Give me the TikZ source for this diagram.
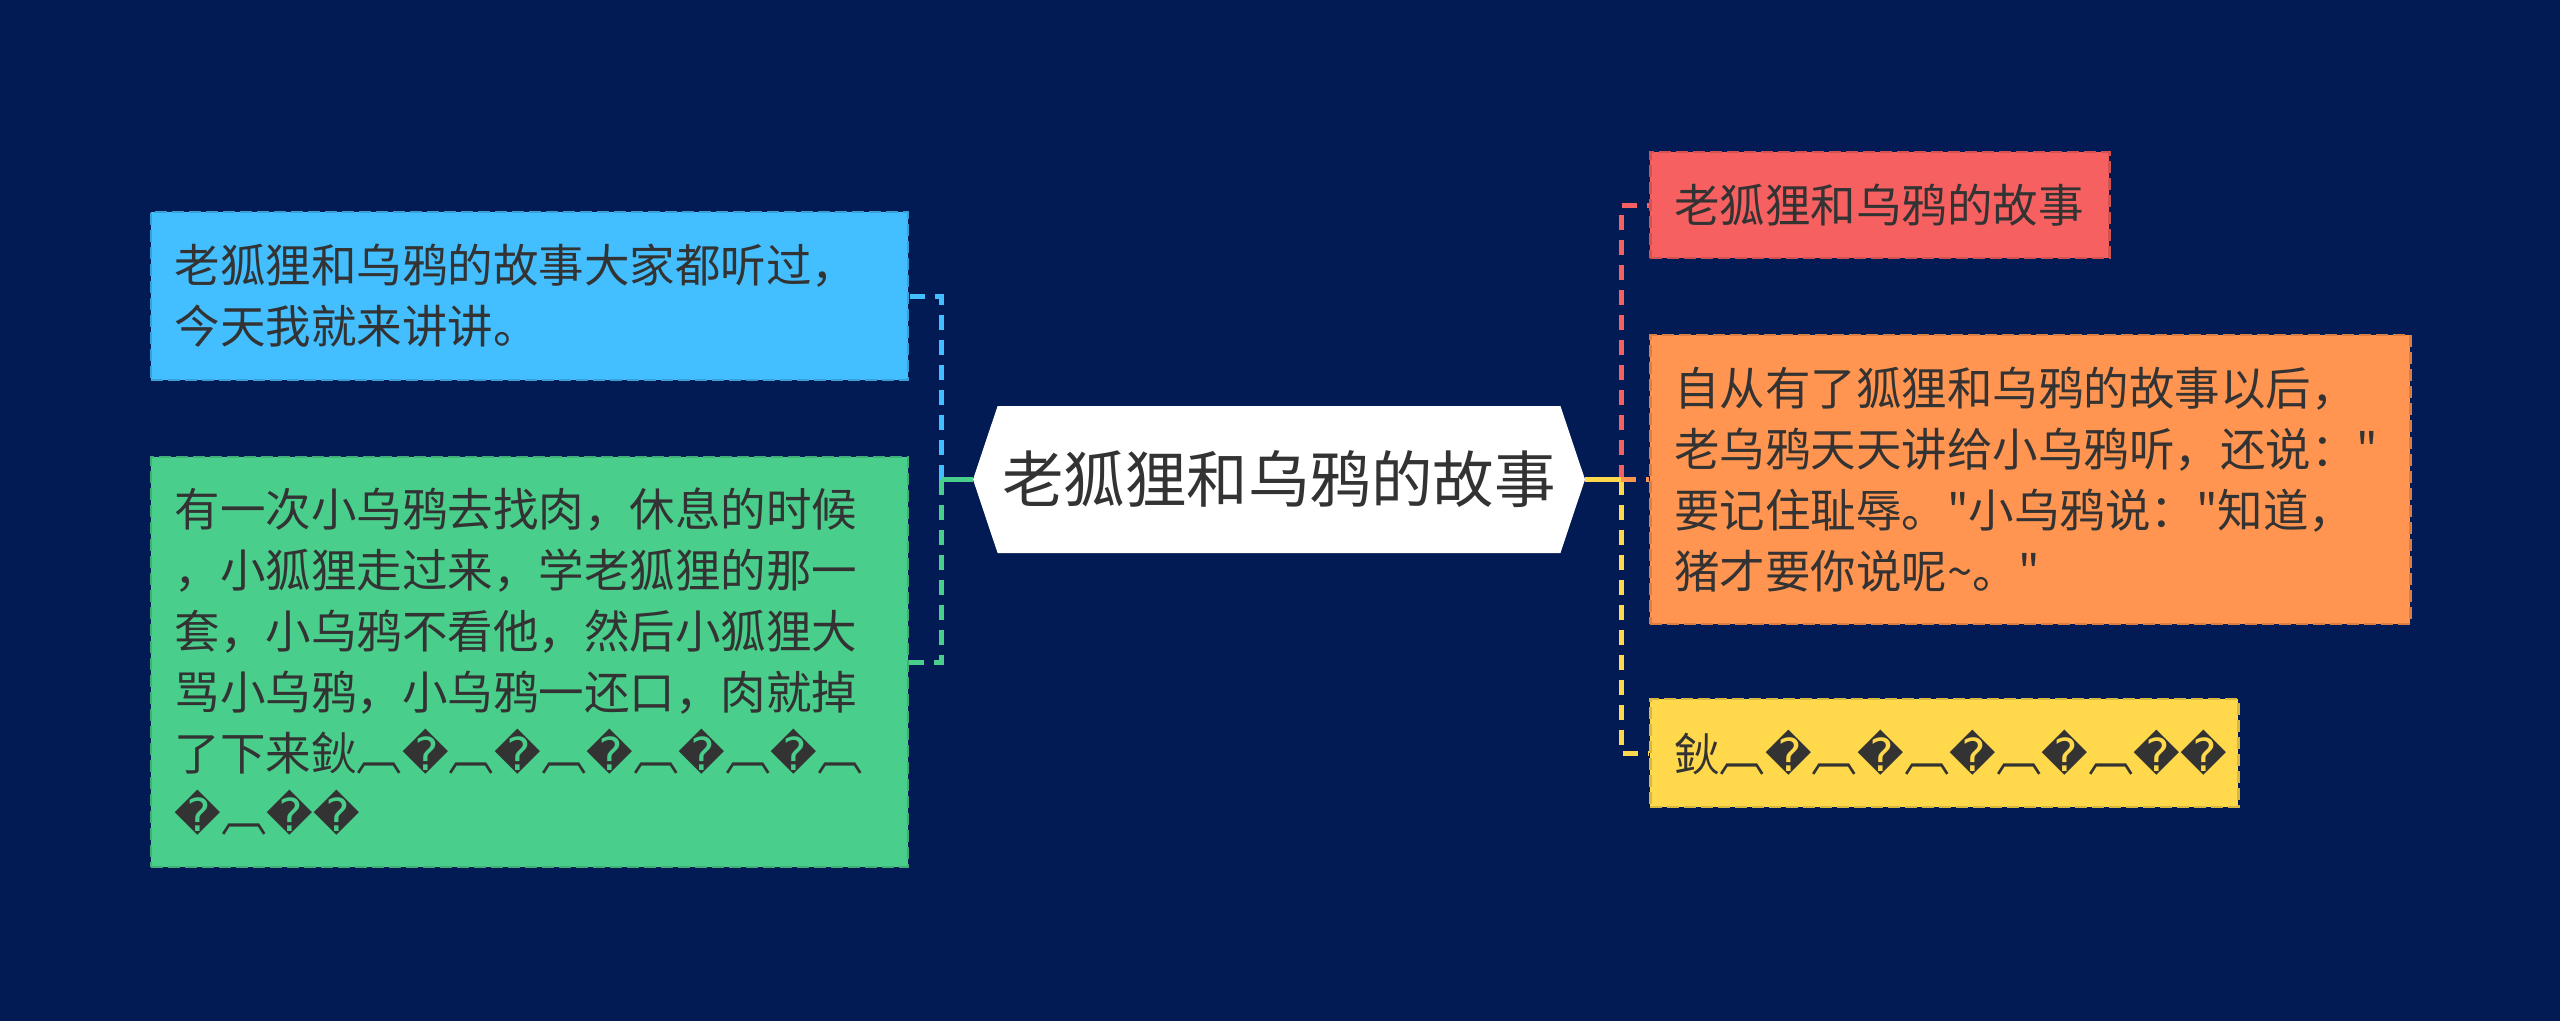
\documentclass[tikz,border=0pt]{standalone}
\usepackage{fontspec}
\setmainfont{Noto Sans CJK SC}[Ligatures=TeXOff]
\newfontfamily\dejavu{DejaVu Sans}
\usetikzlibrary{shapes.symbols}
\definecolor{bgnavy}{RGB}{2,27,84}
\definecolor{txtgray}{RGB}{51,51,51}
\definecolor{cblue}{RGB}{67,190,255}
\definecolor{cgreen}{RGB}{74,206,139}
\definecolor{cred}{RGB}{247,96,96}
\definecolor{corange}{RGB}{255,149,81}
\definecolor{cyellow}{RGB}{255,216,75}
\newcommand{\rch}{{\dejavu\char"FFFD}}
\newcommand{\qmk}{{\char"22}}
\begin{document}
\begin{tikzpicture}[
  x=1pt, y=-1pt,
  leaf/.style={rectangle, draw, dash pattern=on 12pt off 5pt, line width=2.5pt, inner xsep=24pt, inner ysep=0pt, align=left, text=txtgray, font=\fontsize{45.5}{61}\selectfont},
  root/.style={signal, signal to=east and west, signal pointer angle=143, fill=white, minimum width=612pt, minimum height=147pt, inner sep=0pt, text=txtgray, font=\fontsize{61.5}{72}\selectfont},
  link/.style={line width=5pt, dash pattern=on 15pt off 10pt},
  stub/.style={line width=5pt}
]
\fill[bgnavy] (0,0) rectangle (2560,1021);
\node[root] (root) at (1279,479.5) {老狐狸和乌鸦的故事};
\node[leaf, fill=cblue, draw=cblue!85!black, anchor=east, text width=709pt, minimum height=168pt] (intro) at (909,296) {老狐狸和乌鸦的故事大家都听过，\\今天我就来讲讲。};
\node[leaf, fill=cgreen, draw=cgreen!85!black, anchor=east, text width=709pt, minimum height=410pt] (story) at (909,662) {有一次小乌鸦去找肉，休息的时候\\，小狐狸走过来，学老狐狸的那一\\套，小乌鸦不看他，然后小狐狸大\\骂小乌鸦，小乌鸦一还口，肉就掉\\了下来鈥︹\rch︹\rch︹\rch︹\rch︹\rch︹\\\rch︹\rch\rch};
\node[leaf, fill=cred, draw=cred!85!black, anchor=west, text width=411pt, minimum height=106pt] (title) at (1649,205) {老狐狸和乌鸦的故事};
\node[leaf, fill=corange, draw=corange!85!black, anchor=west, text width=712pt, minimum height=289pt] (later) at (1649,479.5) {自从有了狐狸和乌鸦的故事以后，\\老乌鸦天天讲给小乌鸦听，还说：\qmk\\要记住耻辱。\qmk 小乌鸦说：\qmk 知道，\\猪才要你说呢{\char"7E}。\qmk};
\node[leaf, fill=cyellow, draw=cyellow!85!black, anchor=west, text width=540pt, minimum height=108pt] (close) at (1649,753) {鈥︹\rch︹\rch︹\rch︹\rch︹\rch\rch};
\coordinate (jl) at ([xshift=-31pt]root.west);
\coordinate (jr) at ([xshift=36pt]root.east);
\draw[link, cblue] (jl) |- (intro.east);
\draw[link, cgreen] (jl) |- (story.east);
\draw[stub, cgreen] (root.west) -- (jl);
\draw[link, cred] (jr) |- (title.west);
\draw[link, cyellow] (jr) |- (close.west);
\draw[link, corange] (jr) -- (later.west);
\draw[stub, cyellow] (root.east) -- (jr);
\end{tikzpicture}
\end{document}
